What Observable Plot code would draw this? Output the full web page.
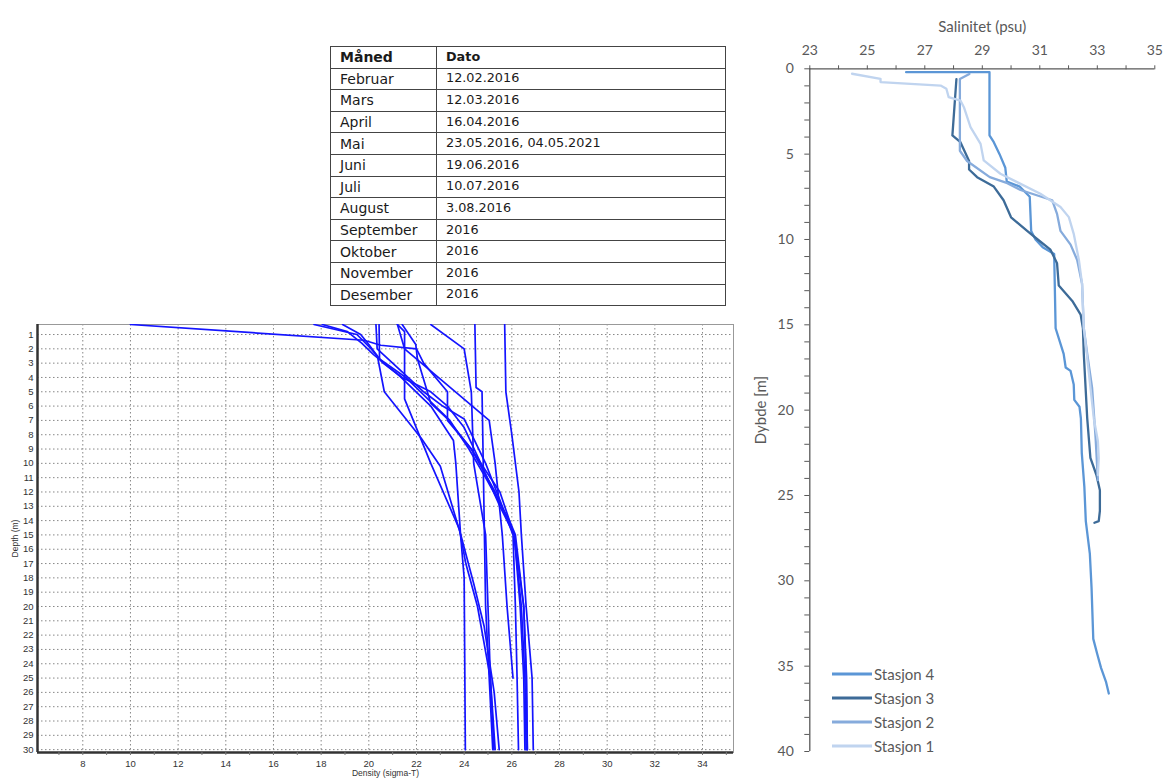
<!DOCTYPE html>
<html><head><meta charset="utf-8">
<script src="https://cdn.jsdelivr.net/npm/d3@7"></script>
<script src="https://cdn.jsdelivr.net/npm/@observablehq/plot@0.6"></script>
<style>
body{margin:0;background:#fff;}
#wrap{position:relative;width:1165px;height:780px;overflow:hidden;background:#fff;}
#tbl{position:absolute;left:330px;top:46px;border-collapse:collapse;font-family:"DejaVu Sans",sans-serif;color:#1a1a1a;}
#tbl td,#tbl th{border:1px solid #444;height:20.6px;padding:0 0 0 9px;text-align:left;vertical-align:middle;line-height:1;}
#tbl .m{width:96px;font-size:14px;}
#tbl .d{width:279px;font-size:12.8px;}
#tbl th{font-size:14px;font-weight:bold;}
#dens{position:absolute;left:0;top:318px;}
#sal{position:absolute;left:745px;top:0;}
#legend{position:absolute;left:832px;top:662px;font-family:Lato,sans-serif;font-size:15px;color:#595959;}
#legend div{height:24px;display:flex;align-items:center;}
#legend svg{margin-right:2px;}
</style></head>
<body><div id="wrap">
<table id="tbl"></table>
<div id="dens"></div>
<div id="sal"></div>
<div id="legend"></div>
</div>
<script>
// ---- table data ----
const months = ["Februar","Mars","April","Mai","Juni","Juli","August","September","Oktober","November","Desember"];
const dates = ["12.02.2016","12.03.2016","16.04.2016","23.05.2016, 04.05.2021","19.06.2016","10.07.2016","3.08.2016","2016","2016","2016","2016"];
const tableHeader = ["Måned","Dato"];

// ---- density profiles: [depth (m), sigma-T] ----
const depthTicks = d3.range(1, 31);
const densityTicks = d3.range(8, 35, 2);
const februar  = [[0.3,25.7],[5,25.75],[8,26.0],[12,26.3],[15,26.4],[20,26.6],[25,26.85],[30,26.9]];
const mars     = [[0.3,24.45],[4.7,24.5],[5,24.75],[15,24.85],[20,24.9],[25,25.05],[30,25.2]];
const april    = [[0.3,21.2],[2,21.5],[7,25.05],[10,25.3],[15,25.6],[20,25.8],[25,26.05]];
const mai2016  = [[0.3,22.6],[2,24.0],[5,24.3],[10,24.4],[15,24.9],[20,25.0],[25,25.1],[30,25.3]];
const mai2021  = [[0.3,10.0],[1.4,19.8],[1.75,20.5],[2,22.0],[3,22.3],[5,23.3],[7,23.3],[9,24.3],[12,25.5],[15,26.1],[20,26.4],[25,26.55],[30,26.6]];
const juni     = [[0.3,17.7],[1,19.5],[2,20.1],[3,20.6],[4,21.4],[5,22.6],[6,23.3],[7.5,24.0],[10,24.7],[13,25.5],[15,26.1],[20,26.35],[25,26.5],[30,26.55]];
const juli     = [[0.3,18.05],[0.8,19.1],[1.6,19.7],[2.4,20.2],[3.9,21.3],[6,22.6],[8.4,23.55],[10,23.65],[15,23.85],[18,24.0],[30,24.05]];
const august   = [[0.3,18.9],[1,19.66],[1.7,20.0],[2.5,20.36],[5,20.65],[8.25,22.2],[10.2,23.0],[15,23.86],[18.4,24.4],[21.4,24.84],[26,25.26],[30,25.47]];
const september= [[0.3,20.43],[2.7,20.45],[4,21.55],[5.7,22.6],[7,23.4],[9,24.2],[11,24.9],[14,25.9],[15,26.15],[20,26.5],[25,26.6],[30,26.65]];
const oktober  = [[0.3,21.2],[0.8,21.5],[5.5,21.5],[10,22.6],[14.6,23.8],[17,24.07],[20,24.56],[25,25.1],[30,25.25]];
const november = [[0.3,21.4],[1.7,21.97],[2.7,22.04],[5.8,22.6],[6.9,23.3],[9,24.3],[12,25.3],[15,26.1],[20,26.5],[25,26.62],[30,26.65]];
const desember = [[0.3,20.3],[2,20.35],[3,21.0],[5,22.3],[6,23.1],[6.9,24.0],[10,24.9],[13,25.6],[15,26.05],[20,26.15],[25,26.22],[30,26.28]];
const densityProfiles = [februar,mars,april,mai2016,mai2021,juni,juli,august,september,oktober,november,desember];

// ---- salinity profiles: [depth (m), salinity (psu)] ----
const salTicks = d3.range(23, 36, 2);
const salDepthTicks = d3.range(0, 41, 5);
const stationNames = ["Stasjon 4","Stasjon 3","Stasjon 2","Stasjon 1"];
const stationColors = ["#5b96d6","#3d6b98","#86abdc","#c0d4ef"];
const stasjon4 = [[0.2,26.35],[0.2,29.25],[0.5,29.25],[3.9,29.25],[4.3,29.4],[5.0,29.6],[5.8,29.8],[6.6,29.85],[6.9,30.3],[7.5,30.65],[9.5,30.7],[10.0,30.85],[10.45,31.1],[10.85,31.5],[15.2,31.55],[16.7,31.83],[17.5,31.9],[17.7,32.07],[18.5,32.18],[19.4,32.2],[19.8,32.38],[20.5,32.43],[22.5,32.46],[24.5,32.55],[26.5,32.6],[28.4,32.74],[30.4,32.8],[33.4,32.86],[34.3,33.0],[35.1,33.13],[35.9,33.3],[36.6,33.4]];
const stasjon3 = [[0.6,28.1],[3.9,27.96],[4.3,28.24],[5.4,28.54],[5.9,28.54],[6.35,28.82],[6.9,29.4],[7.7,29.74],[8.7,30.0],[9.5,30.56],[10.06,30.97],[10.6,31.37],[11.4,31.6],[12.7,31.66],[13.6,32.13],[14.4,32.42],[15.2,32.5],[16.7,32.53],[20.5,32.65],[22.8,32.76],[23.8,32.97],[24.7,33.09],[25.9,33.09],[26.5,33.05],[26.6,32.9]];
const stasjon2 = [[0.3,28.55],[0.6,28.22],[4.8,28.22],[5.4,28.47],[6.35,29.26],[6.7,29.87],[7.1,30.33],[7.7,31.43],[8.5,31.6],[9.5,31.72],[10.3,32.07],[11.2,32.3],[12.6,32.47],[15.2,32.53],[16.7,32.65],[18.7,32.82],[21.6,32.94],[24.1,33.02]];
const stasjon1 = [[0.29,24.47],[0.59,25.46],[0.78,25.46],[0.98,27.55],[1.17,27.75],[1.66,27.83],[1.86,28.24],[2.25,28.36],[3.42,28.59],[4.4,28.94],[5.37,29.05],[6.15,29.63],[6.64,30.21],[7.32,31.02],[8.1,31.72],[8.69,32.01],[9.67,32.18],[11.2,32.36],[12.6,32.47],[15.2,32.53],[16.5,32.62],[18.5,32.75],[20.5,32.88],[21.8,33.02],[22.8,33.05],[23.8,33.02]];
const stations = [stasjon4, stasjon3, stasjon2, stasjon1];

// ---- table ----
const tbl = document.getElementById("tbl");
tbl.innerHTML = `<tr><th class="m">${tableHeader[0]}</th><th class="d">${tableHeader[1]}</th></tr>` +
  months.map((m,i) => `<tr><td class="m">${m}</td><td class="d">${dates[i]}</td></tr>`).join("");

// ---- density plot ----
const dens = Plot.plot({
  width: 740, height: 462,
  marginLeft: 37, marginRight: 7, marginTop: 6, marginBottom: 28,
  style: {fontFamily: "'Liberation Sans', Arial, sans-serif", fontSize: "9.5px", color: "#333", background: "transparent"},
  x: {domain: [6.1, 35.3]},
  y: {domain: [0.3, 30.2], reverse: true},
  marks: [
    Plot.gridX(densityTicks, {stroke: "#888", strokeOpacity: 1, strokeDasharray: "1.5,2.5"}),
    Plot.gridY(depthTicks, {stroke: "#888", strokeOpacity: 1, strokeDasharray: "1.5,2.5"}),
    Plot.frame({stroke: "#999"}),
    Plot.ruleX([6.1], {stroke: "#333", strokeWidth: 2.5}),
    Plot.ruleY([30.2], {stroke: "#333", strokeWidth: 2.5}),
    Plot.axisX(densityTicks, {tickSize: 0, tickPadding: 8, label: null}),
    Plot.axisX(d3.range(7, 36), {tickSize: 3, tickFormat: () => "", stroke: "#777", label: null}),
    Plot.axisY(depthTicks, {tickSize: 0, tickPadding: 4, label: null}),
    Plot.text(["Density (sigma-T)"], {frameAnchor: "bottom", dy: 23, fontSize: 8.5}),
    Plot.text(["Depth (m)"], {frameAnchor: "left", dx: -22, rotate: -90, textAnchor: "middle", fontSize: 8.5}),
    ...densityProfiles.map(p => Plot.line(p, {x: d => d[1], y: d => d[0], stroke: "#1414ff", strokeWidth: 1.7, clip: true}))
  ]
});
document.getElementById("dens").append(dens);

// ---- salinity plot ----
const sal = Plot.plot({
  width: 420, height: 780,
  marginLeft: 64.3, marginRight: 10.7, marginTop: 68.3, marginBottom: 29,
  style: {fontFamily: "Lato, sans-serif", fontSize: "14px", color: "#595959", background: "transparent"},
  x: {domain: [23, 35]},
  y: {domain: [0, 40], reverse: true},
  marks: [
    Plot.axisX(salTicks, {anchor: "top", tickSize: 0, tickPadding: 14, label: null}),
    Plot.axisX(d3.range(23, 36, 1), {anchor: "top", tickSize: 4, tickFormat: () => "", label: null, stroke: "#595959"}),
    Plot.axisY(salDepthTicks, {tickSize: 0, tickPadding: 16, label: null}),
    Plot.axisY(d3.range(0, 41, 1), {tickSize: 5, tickFormat: () => "", label: null, stroke: "#595959"}),
    Plot.ruleX([23], {stroke: "#595959", strokeWidth: 1.3}),
    Plot.ruleY([0], {stroke: "#595959", strokeWidth: 1.3}),
    Plot.text(["Salinitet (psu)"], {frameAnchor: "top", dy: -47, fontSize: 15}),
    Plot.text(["Dybde [m]"], {frameAnchor: "left", dx: -49, rotate: -90, textAnchor: "middle", fontSize: 15}),
    ...stations.map((s, i) => Plot.line(s, {x: d => d[1], y: d => d[0], stroke: stationColors[i], strokeWidth: 2.3}))
  ]
});
document.getElementById("sal").append(sal);

// ---- legend ----
document.getElementById("legend").innerHTML = stationNames.map((n, i) =>
  `<div><svg width="40" height="4"><line x1="0" x2="40" y1="2" y2="2" stroke="${stationColors[i]}" stroke-width="3"/></svg>${n}</div>`).join("");
</script>
</body></html>
